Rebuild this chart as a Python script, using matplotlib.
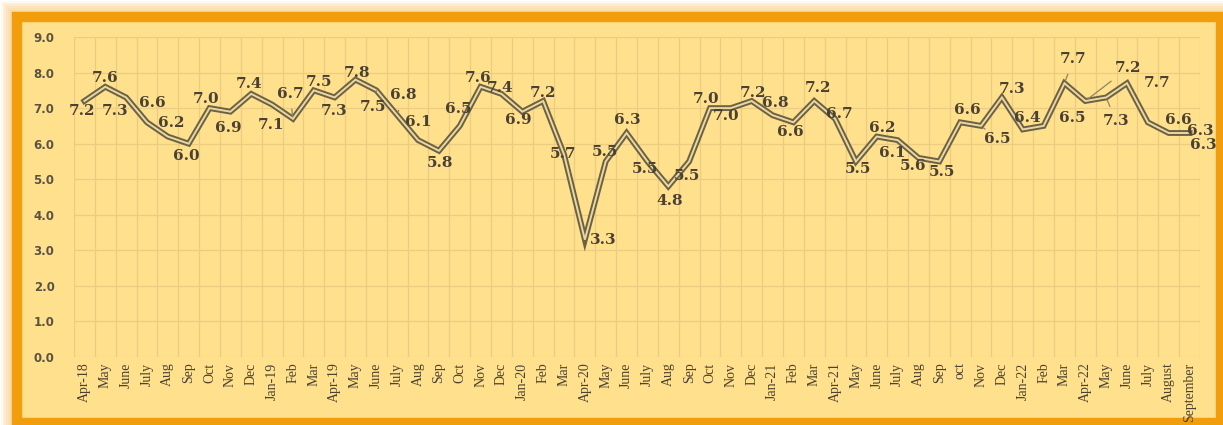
import matplotlib.pyplot as plt
from matplotlib.patches import Rectangle

# monthly series, Apr-18 .. Sep-22
months = ["Apr-18", "May", "June", "July", "Aug", "Sep", "Oct", "Nov", "Dec",
          "Jan-19", "Feb", "Mar", "Apr-19", "May", "June", "July", "Aug", "Sep",
          "Oct", "Nov", "Dec", "Jan-20", "Feb", "Mar", "Apr-20", "May", "June",
          "July", "Aug", "Sep", "Oct", "Nov", "Dec", "Jan-21", "Feb", "Mar",
          "Apr-21", "May", "June", "July", "Aug", "Sep", "oct", "Nov", "Dec",
          "Jan-22", "Feb", "Mar", "Apr-22", "May", "June", "July", "August",
          "September"]
values = [7.2, 7.6, 7.3, 6.6, 6.2, 6.0, 7.0, 6.9, 7.4,
          7.1, 6.7, 7.5, 7.3, 7.8, 7.5, 6.8, 6.1, 5.8,
          6.5, 7.6, 7.4, 6.9, 7.2, 5.7, 3.3, 5.5, 6.3,
          5.5, 4.8, 5.5, 7.0, 7.0, 7.2, 6.8, 6.6, 7.2,
          6.7, 5.5, 6.2, 6.1, 5.6, 5.5, 6.6, 6.5, 7.3,
          6.4, 6.5, 7.7, 7.2, 7.3, 7.7, 6.6, 6.3, 6.3]

# label placement (pixel offsets from each point) and which ones get a leader line
label_offsets = [(-2, -10), (0, 9), (-11, -14), (5, 19), (3, 14), (-2, -12),
                 (-3, 9), (-2, -16), (-2, 10), (-1, -20), (-3, 25), (5, 8),
                 (-1, -14), (2, 7), (-3, -17), (6, 20), (0, 18), (1, -12),
                 (-2, 17), (-3, 9), (-1, 6), (-4, -8), (0, 8), (-1, 0),
                 (18, 0), (-1, 9), (1, 13), (-2, -8), (1, -15), (-2, -15),
                 (-4, 9), (-5, -8), (1, 8), (3, 12), (-3, -10), (4, 13),
                 (4, 5), (2, -8), (5, 9), (-5, -13), (-5, -8), (3, -11),
                 (7, 12), (16, -13), (10, 8), (5, 11), (29, 8), (9, 24),
                 (43, 33), (10, -24), (30, 0), (30, 2), (32, 2), (14, -12)]
leaders = {10, 14, 15, 43, 47, 48, 49}

W, H = 1223, 425
fig = plt.figure(figsize=(W / 100, H / 100), dpi=100, facecolor="white")

# soft orange glow around the frame
for k in range(9, 0, -1):
    pad = k * 1.8
    fig.patches.append(Rectangle(((17 - pad) / W, (2 - pad) / H),
                                 (1204 + 2 * pad) / W, (406 + 2 * pad) / H,
                                 transform=fig.transFigure, facecolor="#f5a623",
                                 edgecolor="none", alpha=0.08, zorder=-3))
# orange frame with pale yellow fill
fig.patches.append(Rectangle((17 / W, 2 / H), 1204 / W, 406 / H,
                             transform=fig.transFigure, facecolor="#ffe08d",
                             edgecolor="#f29e0c", linewidth=7.5, zorder=-2))

ax = fig.add_axes([74 / W, 1 - 357 / H, 1126 / W, 320 / H])
ax.set_facecolor("none")
x = list(range(len(values)))

ax.plot(x, values, color="#6c6045", lw=4.2, solid_joinstyle="miter", zorder=3)
ax.plot(x, values, color="#e9d8a0", lw=1.4, solid_joinstyle="miter", zorder=4)

for i, v in enumerate(values):
    dx, dy = label_offsets[i]
    arrow = None
    if i in leaders:
        arrow = dict(arrowstyle="-", color="#8f8466", lw=0.9, shrinkA=4, shrinkB=2)
    ax.annotate(f"{v:.1f}", xy=(i, v), xytext=(dx, dy), textcoords="offset pixels",
                ha="center", va="center", fontsize=11, fontweight="bold",
                family="DejaVu Serif", color="#4a4132", arrowprops=arrow, zorder=5)

ax.set_xlim(-0.5, len(values) - 0.5)
ax.set_ylim(0, 9)
ax.set_yticks([0, 1, 2, 3, 4, 5, 6, 7, 8, 9])
ax.set_yticklabels([f"{t:.1f}" for t in range(10)], fontsize=8.5, fontweight="bold",
                   color="#5a5242")
ax.set_xticks(x)
ax.set_xticklabels(months, rotation=90, fontsize=10, family="Liberation Serif",
                   color="#4a4232")
ax.set_xticks([i - 0.5 for i in range(len(values) + 1)], minor=True)
ax.tick_params(axis="both", which="both", length=0)
ax.tick_params(axis="y", pad=14)
ax.tick_params(axis="x", pad=4)

ax.grid(axis="y", color="#eccc80", lw=0.9)
ax.grid(axis="x", which="minor", color="#eccc80", lw=0.9)
ax.grid(axis="x", which="major", visible=False)
ax.set_axisbelow(True)
for s in ax.spines.values():
    s.set_visible(False)

fig.savefig("out.png", dpi=100, facecolor="white")
